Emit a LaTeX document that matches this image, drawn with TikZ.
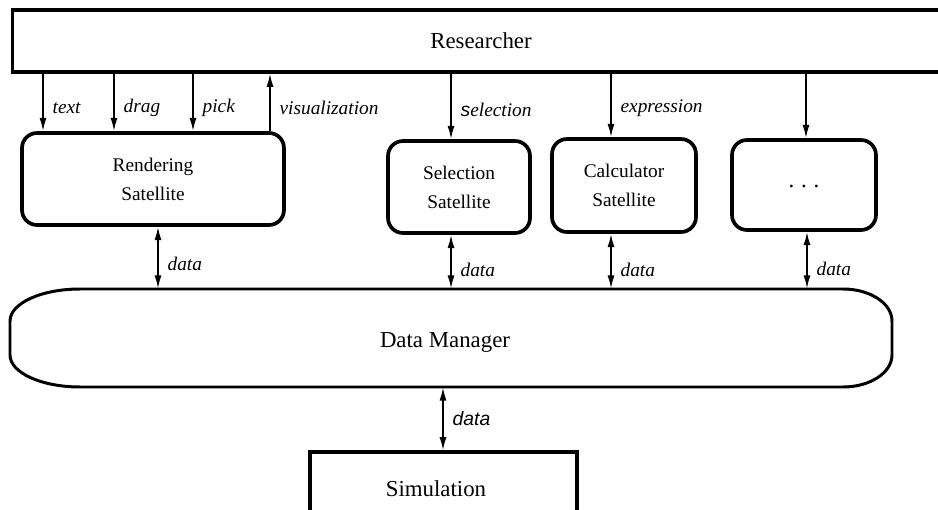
\documentclass[tikz,border=0pt]{standalone}
\usepackage{fontspec}
\setmainfont{Liberation Serif}
\setsansfont{Liberation Sans}
\usetikzlibrary{arrows.meta, calc, positioning}

\begin{document}
\begin{tikzpicture}[x=0.02cm, y=0.02cm,
    big/.style={draw, line width=1.8pt, font=\fontsize{13}{15}\selectfont},
    sat/.style={draw, line width=2.1pt, rounded corners=0.3cm, align=center,
        font=\fontsize{11}{16.5}\selectfont},
    flow/.style={-{Latex[length=7.5pt,width=4pt]}, line width=1pt},
    dual/.style={{Latex[length=7.5pt,width=4pt]}-{Latex[length=7.5pt,width=4pt]}, line width=1pt},
    lab/.style={font=\fontsize{11}{13}\selectfont\itshape, inner sep=1pt, right=4pt}]
    \useasboundingbox (0,0) rectangle (938,-510);
    \clip (0,0) rectangle (938,-510);

    \node[big, minimum width=18.76cm, minimum height=1.24cm] (res) at (481,-41) {Researcher};
    \node[sat, minimum width=5.24cm, minimum height=1.84cm] (rend) at (153,-179) {Rendering\\Satellite};
    \node[sat, minimum width=2.84cm, minimum height=1.84cm] (sel) at (459,-187) {Selection\\Satellite};
    \node[sat, minimum width=2.88cm, minimum height=1.86cm] (calc) at (624,-185.5) {Calculator\\Satellite};
    \node[sat, minimum width=2.88cm, minimum height=1.8cm, font=\fontsize{13}{15}\selectfont] (more) at (804,-185)
        {\raisebox{-3pt}{.\hspace{0.3em}.\hspace{0.3em}.}};
    \node[minimum width=17.64cm, minimum height=1.96cm,
        label={[xshift=-0.12cm, yshift=-0.08cm, font=\fontsize{13}{15}\selectfont]center:Data Manager}] (dm) at (451,-338) {};
    \node[big, minimum width=5.34cm, minimum height=1.46cm] (sim) at (443.5,-488.5) {\hspace*{-0.3cm}Simulation};

    \draw[line width=1.7pt] (80,-289) -- (843,-289)
        arc[start angle=90, end angle=0, x radius=49, y radius=32] -- (892,-355)
        arc[start angle=0, end angle=-90, x radius=49, y radius=32] -- (80,-387)
        arc[start angle=270, end angle=180, x radius=70, y radius=32] -- (10,-321)
        arc[start angle=180, end angle=90, x radius=70, y radius=32] -- cycle;

    \draw
    (res.south -| 43,0) edge[flow] node[lab, pos=0.6]{text} (rend.north -| 43,0)
    (res.south -| 114,0) edge[flow] node[lab, pos=0.6]{drag} (rend.north -| 114,0)
    (res.south -| 193,0) edge[flow] node[lab, pos=0.6]{pick} (rend.north -| 193,0)
    (rend.north -| 270,0) edge[flow] node[lab, pos=0.4]{visualization} (res.south -| 270,0)
    (res.south -| 451,0) edge[flow] node[lab, pos=0.55]{{\sffamily s}election} (sel.north -| 451,0)
    (res.south -| 611,0) edge[flow] node[lab, pos=0.55]{expression} (calc.north -| 611,0)
    (res.south -| 806,0) edge[flow] (more.north -| 806,0);

    \draw
    (rend.south -| 158,0) edge[dual] node[lab, pos=0.6]{data} (dm.north -| 158,0)
    (sel.south -| 451,0) edge[dual] node[lab, pos=0.65]{data} (dm.north -| 451,0)
    (calc.south -| 611,0) edge[dual] node[lab, pos=0.65]{data} (dm.north -| 611,0)
    (more.south -| 807,0) edge[dual] node[lab, pos=0.65]{data} (dm.north -| 807,0)
    (dm.south -| 443,0) edge[dual] node[lab, font=\fontsize{11}{13}\selectfont\sffamily\itshape]{data} (sim.north -| 443,0);
\end{tikzpicture}
\end{document}
